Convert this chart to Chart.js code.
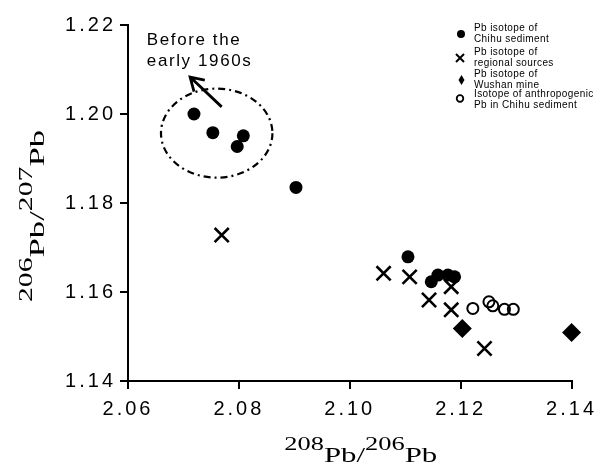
<!DOCTYPE html>
<html lang="en">
<head>
<meta charset="UTF-8">
<title>Pb isotope ratios</title>
<style>
    * { margin: 0; padding: 0; box-sizing: border-box; }
    body { background: #fff; width: 605px; height: 470px; overflow: hidden; }
    .wrap { position: relative; width: 605px; height: 470px; }
</style>
</head>
<body>
<div class="wrap"><canvas id="chart"></canvas></div>

<script src="https://cdn.jsdelivr.net/npm/chart.js"></script>
<script>
// x = 208Pb/206Pb, y = 206Pb/207Pb
const sedimentX = [2.0719, 2.0753, 2.0808, 2.0797, 2.0903, 2.1105, 2.1147, 2.1159, 2.1177, 2.1189];
const sedimentY = [1.2000, 1.1958, 1.1951, 1.1927, 1.1835, 1.1679, 1.1623, 1.1638, 1.1638, 1.1634];

const regionalX = [2.0769, 2.1061, 2.1108, 2.1143, 2.1183, 2.1183, 2.1243];
const regionalY = [1.1728, 1.1642, 1.1634, 1.1582, 1.1612, 1.1560, 1.1473];

const wushanX = [2.1203, 2.1400];
const wushanY = [1.1518, 1.1509];

const anthroX = [2.1222, 2.1251, 2.1258, 2.1279, 2.1295];
const anthroY = [1.1563, 1.1578, 1.1569, 1.1561, 1.1561];

const xTicks = [2.06, 2.08, 2.10, 2.12, 2.14];
const yTicks = [1.14, 1.16, 1.18, 1.20, 1.22];

const legendLabels = [
    ['Pb isotope of', 'Chihu sediment'],
    ['Pb isotope of', 'regional sources'],
    ['Pb isotope of', 'Wushan mine'],
    ['Isotope of anthropogenic', 'Pb in Chihu sediment']
];

// dashed ellipse round the old samples, and the arrow + note above it (data units)
const ellipse = { x: 2.0760, y: 1.1957, rx: 0.01005, ry: 0.0100 };
const arrow = { fromX: 2.0769, fromY: 1.2016, toX: 2.0712, toY: 1.2083 };
const note = { x: 2.0634, y: 1.2155, lines: ['Before the', 'early 1960s'] };

function pairs(xs, ys) {
    return xs.map((x, i) => ({ x: x, y: ys[i] }));
}

// draw a label made of [text, isSuperscript] parts, stretched to a given length
function drawRatio(ctx, parts, length) {
    const big = '21px "Liberation Serif", "Times New Roman", serif';
    const small = '18px "Liberation Serif", "Times New Roman", serif';
    let total = 0;
    parts.forEach(p => {
        ctx.font = p[1] ? small : big;
        total += ctx.measureText(p[0]).width;
    });
    ctx.scale(length / total, 1);
    let pos = -total / 2;
    parts.forEach(p => {
        ctx.font = p[1] ? small : big;
        ctx.fillText(p[0], pos, p[1] ? -12 : 0);
        pos += ctx.measureText(p[0]).width;
    });
}

const spacing = {
    id: 'spacing',
    beforeLayout(chart) { chart.ctx.letterSpacing = '3px'; },
    beforeDraw(chart) { chart.ctx.letterSpacing = '3px'; }
};

const extras = {
    id: 'extras',
    afterDraw(chart) {
        const ctx = chart.ctx;
        const xs = chart.scales.x;
        const ys = chart.scales.y;
        const area = chart.chartArea;

        ctx.save();
        ctx.letterSpacing = '0px';
        ctx.fillStyle = '#000';
        ctx.strokeStyle = '#000';

        // ellipse
        const cx = xs.getPixelForValue(ellipse.x);
        const cy = ys.getPixelForValue(ellipse.y);
        const rx = xs.getPixelForValue(ellipse.x + ellipse.rx) - cx;
        const ry = cy - ys.getPixelForValue(ellipse.y + ellipse.ry);
        ctx.lineWidth = 2.2;
        ctx.setLineDash([7, 4, 2, 4]);
        ctx.beginPath();
        ctx.ellipse(cx, cy, rx, ry, 0, 0, Math.PI * 2);
        ctx.stroke();
        ctx.setLineDash([]);

        // arrow
        const ax0 = xs.getPixelForValue(arrow.fromX), ay0 = ys.getPixelForValue(arrow.fromY);
        const ax1 = xs.getPixelForValue(arrow.toX), ay1 = ys.getPixelForValue(arrow.toY);
        const ang = Math.atan2(ay1 - ay0, ax1 - ax0);
        ctx.lineWidth = 2.8;
        ctx.beginPath();
        ctx.moveTo(ax0, ay0);
        ctx.lineTo(ax1, ay1);
        ctx.moveTo(ax1 - 15 * Math.cos(ang - 0.55), ay1 - 15 * Math.sin(ang - 0.55));
        ctx.lineTo(ax1, ay1);
        ctx.lineTo(ax1 - 15 * Math.cos(ang + 0.55), ay1 - 15 * Math.sin(ang + 0.55));
        ctx.stroke();

        // note text
        ctx.font = '17px Arial, "Liberation Sans", sans-serif';
        ctx.letterSpacing = '1.6px';
        ctx.textAlign = 'left';
        ctx.textBaseline = 'alphabetic';
        const nx = xs.getPixelForValue(note.x);
        const ny = ys.getPixelForValue(note.y);
        ctx.fillText(note.lines[0], nx, ny);
        ctx.fillText(note.lines[1], nx, ny + 21);

        // legend
        const lx = 460;
        const tx = 474;
        const tops = [30.5, 54.5, 76.5, 97];
        ctx.font = '10px Arial, "Liberation Sans", sans-serif';
        ctx.letterSpacing = '0.4px';
        legendLabels.forEach((lines, i) => {
            const y = tops[i];
            ctx.fillText(lines[0], tx, y);
            ctx.fillText(lines[1], tx, y + 11);
            const my = y + 3.5;
            ctx.beginPath();
            if (i === 0) {
                ctx.arc(lx + 1, my, 4, 0, Math.PI * 2);
                ctx.fill();
            } else if (i === 1) {
                ctx.lineWidth = 2;
                ctx.moveTo(lx - 4, my - 4); ctx.lineTo(lx + 4, my + 4);
                ctx.moveTo(lx - 4, my + 4); ctx.lineTo(lx + 4, my - 4);
                ctx.stroke();
            } else if (i === 2) {
                ctx.moveTo(lx + 1.5, my - 5); ctx.lineTo(lx + 4.5, my);
                ctx.lineTo(lx + 1.5, my + 5); ctx.lineTo(lx - 1.5, my);
                ctx.closePath();
                ctx.fill();
            } else {
                ctx.lineWidth = 1.8;
                ctx.arc(lx, my - 2, 3.3, 0, Math.PI * 2);
                ctx.stroke();
            }
        });

        // axis titles
        ctx.letterSpacing = '0px';
        ctx.textAlign = 'left';
        ctx.save();
        ctx.translate((area.left + area.right) / 2 + 11, 462);
        drawRatio(ctx, [['208', true], ['Pb', false], ['/', false], ['206', true], ['Pb', false]], 153);
        ctx.restore();

        ctx.save();
        ctx.translate(44, 216);
        ctx.rotate(-Math.PI / 2);
        drawRatio(ctx, [['206', true], ['Pb', false], ['/', false], ['207', true], ['Pb', false]], 172);
        ctx.restore();

        ctx.restore();
    }
};

const ctx = document.getElementById('chart').getContext('2d');
new Chart(ctx, {
    type: 'scatter',
    data: {
        datasets: [
            {
                label: 'Pb isotope of Chihu sediment',
                data: pairs(sedimentX, sedimentY),
                pointStyle: 'circle',
                pointRadius: 6.5,
                backgroundColor: '#000',
                borderColor: '#000',
                borderWidth: 0
            },
            {
                label: 'Pb isotope of regional sources',
                data: pairs(regionalX, regionalY),
                pointStyle: 'crossRot',
                pointRadius: 10,
                borderColor: '#000',
                borderWidth: 2.6
            },
            {
                label: 'Pb isotope of Wushan mine',
                data: pairs(wushanX, wushanY),
                pointStyle: 'rectRot',
                pointRadius: 9.5,
                backgroundColor: '#000',
                borderColor: '#000',
                borderWidth: 0
            },
            {
                label: 'Isotope of anthropogenic Pb in Chihu sediment',
                data: pairs(anthroX, anthroY),
                pointStyle: 'circle',
                pointRadius: 5.5,
                backgroundColor: 'rgba(0,0,0,0)',
                borderColor: '#000',
                borderWidth: 2
            }
        ]
    },
    options: {
        responsive: true,
        maintainAspectRatio: false,
        animation: false,
        clip: false,
        layout: { padding: { top: 25, right: 33, left: 0, bottom: 0 } },
        plugins: {
            legend: { display: false },
            tooltip: { enabled: false }
        },
        scales: {
            x: {
                type: 'linear',
                min: 2.06,
                max: 2.14,
                afterFit(scale) { scale.height = 89; },
                afterBuildTicks(scale) { scale.ticks = xTicks.map(v => ({ value: v })); },
                border: { color: '#000', width: 2 },
                grid: { drawOnChartArea: false, color: '#000', lineWidth: 2, tickLength: 8 },
                ticks: {
                    color: '#000',
                    padding: 8,
                    maxRotation: 0,
                    font: { family: 'Arial, "Liberation Sans", sans-serif', size: 20 },
                    callback: v => v.toFixed(2)
                }
            },
            y: {
                type: 'linear',
                min: 1.14,
                max: 1.22,
                afterFit(scale) { scale.width = 128; },
                afterBuildTicks(scale) { scale.ticks = yTicks.map(v => ({ value: v })); },
                border: { color: '#000', width: 2 },
                grid: { drawOnChartArea: false, color: '#000', lineWidth: 2, tickLength: 8 },
                ticks: {
                    color: '#000',
                    padding: 4,
                    font: { family: 'Arial, "Liberation Sans", sans-serif', size: 20 },
                    callback: v => v.toFixed(2)
                }
            }
        }
    },
    plugins: [spacing, extras]
});
</script>
</body>
</html>
